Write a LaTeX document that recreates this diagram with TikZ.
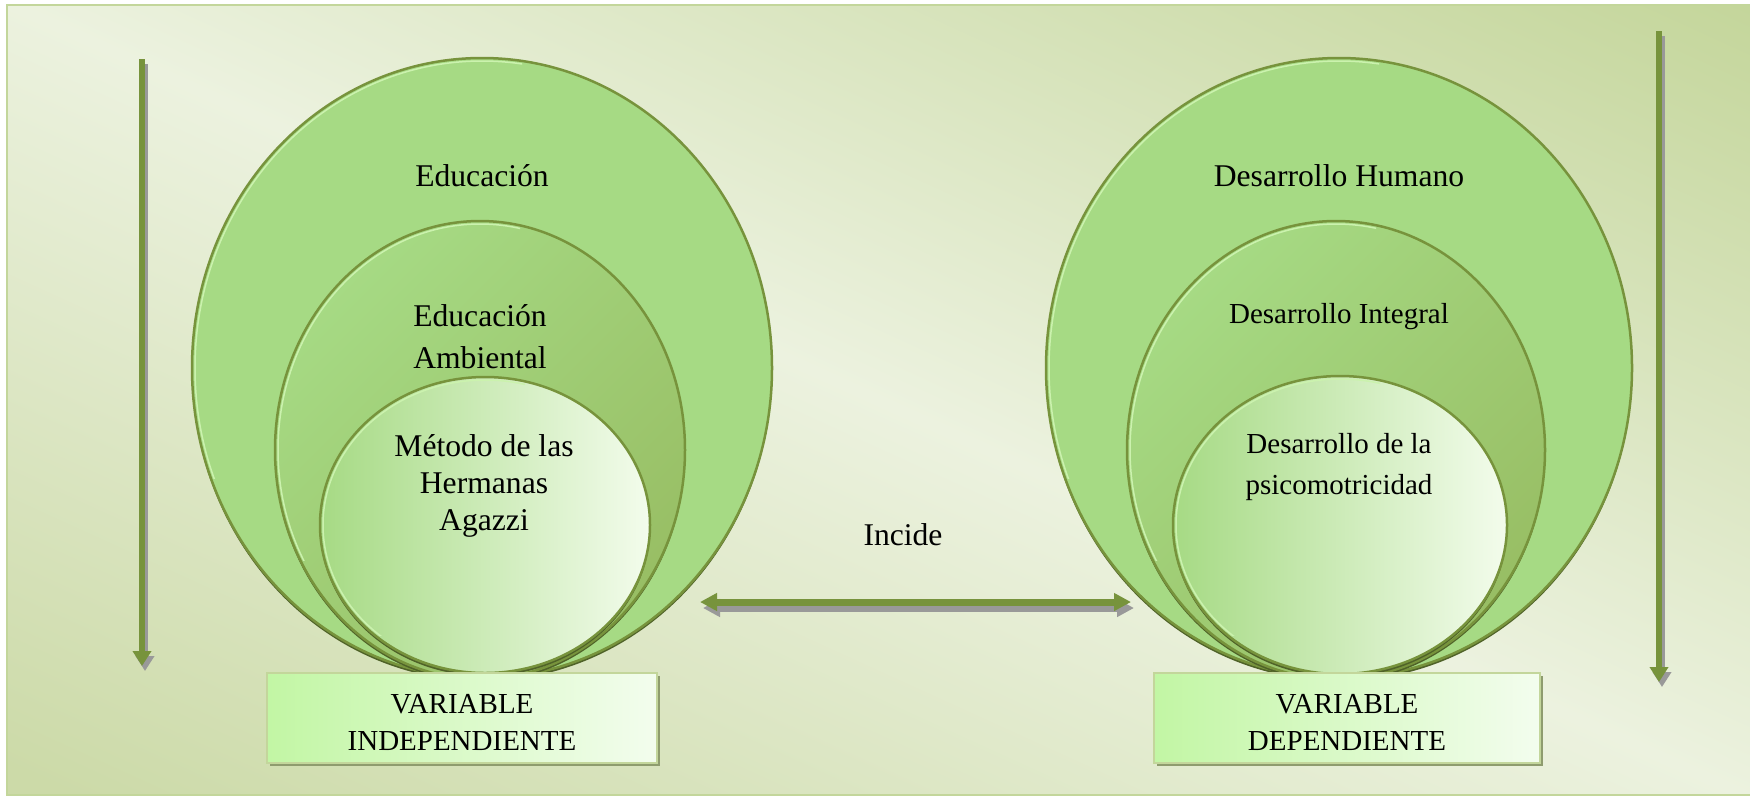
\documentclass[tikz,border=0pt]{standalone}
\usepackage{fontspec}
\setmainfont{Liberation Serif}
\usetikzlibrary{arrows.meta}

\definecolor{olivearrow}{HTML}{77933C}
\definecolor{olivedark}{HTML}{4F6228}
\definecolor{ovalfill}{HTML}{A6DA84}
\definecolor{ovaldark}{HTML}{98BE64}
\definecolor{ovalwhite}{HTML}{F3FCEC}
\definecolor{ovallight}{HTML}{CBF2AE}
\definecolor{bglight}{HTML}{ECF2DF}
\definecolor{bgdarka}{HTML}{CCDAA8}
\definecolor{bgdarkb}{HTML}{C3D599}
\definecolor{framegreen}{HTML}{C3D69B}
\definecolor{boxleft}{HTML}{C2F6A4}
\definecolor{boxright}{HTML}{F3FDEE}
\definecolor{boxshadow}{HTML}{8E9C6E}
\definecolor{arrowgray}{HTML}{999999}

\pgfdeclarehorizontalshading{bgdiag}{100bp}{color(0bp)=(bgdarka); color(18bp)=(bgdarka); color(50bp)=(bglight); color(84bp)=(bgdarkb); color(100bp)=(bgdarkb)}

\begin{document}
\begin{tikzpicture}[x=0.02cm, y=-0.02cm,
    ovaltext/.style={font=\fontsize{18}{24}\selectfont, align=center},
    smalltext/.style={font=\fontsize{16.5}{23}\selectfont, align=center},
    ovalline/.style={draw=olivearrow, line width=0.05cm},
    ovalshadow/.style={fill=olivedark},
    ovalshine/.style={draw=ovallight, line width=0.03cm},
    varbox/.style={draw=framegreen, line width=0.04cm, left color=boxleft, right color=boxright,
        minimum height=1.8cm},
    vartext/.style={align=center, font=\fontsize{16.5}{21.5}\selectfont},
    varshadow/.style={fill=boxshadow, minimum height=1.8cm},
    bigarrow/.style={draw=olivearrow, line width=0.12cm, -{Triangle[length=0.3cm,width=0.36cm]}},
    bigshadow/.style={draw=arrowgray, line width=0.12cm, -{Triangle[length=0.3cm,width=0.36cm,fill=arrowgray]}},
    incarrow/.style={draw=olivearrow, line width=0.14cm, {Triangle[length=0.34cm,width=0.34cm]}-{Triangle[length=0.34cm,width=0.34cm]}},
    incshadow/.style={draw=arrowgray, line width=0.14cm, {Triangle[length=0.34cm,width=0.34cm]}-{Triangle[length=0.34cm,width=0.34cm]}}]

    \useasboundingbox (0,0) rectangle (1750,796);
    % fondo
    \shade[shading=bgdiag, shading angle=65.5] (7,5) rectangle (1752,795);
    \draw[framegreen, line width=0.04cm] (7,5) rectangle (1752,795);

    % variable independiente
    \fill[ovalshadow] (482,371) ellipse [x radius=290, y radius=310];
    \draw[ovalline, fill=ovalfill] (482,368) ellipse [x radius=290, y radius=310];
    \fill[ovalshadow] (480,453) ellipse [x radius=205, y radius=229];
    \shade[left color=ovalfill, right color=ovaldark, shading angle=45] (480,450) ellipse [x radius=205, y radius=229];
    \draw[ovalline] (480,450) ellipse [x radius=205, y radius=229];
    \fill[ovalshadow] (485,528) ellipse [x radius=165, y radius=148];
    \shade[left color=ovalfill, right color=ovalwhite] (485,525) ellipse [x radius=165, y radius=148];
    \draw[ovalline] (485,525) ellipse [x radius=165, y radius=148];

    % variable dependiente
    \fill[ovalshadow] (1339,371) ellipse [x radius=293, y radius=310];
    \draw[ovalline, fill=ovalfill] (1339,368) ellipse [x radius=293, y radius=310];
    \fill[ovalshadow] (1336,453) ellipse [x radius=209, y radius=229];
    \shade[left color=ovalfill, right color=ovaldark, shading angle=45] (1336,450) ellipse [x radius=209, y radius=229];
    \draw[ovalline] (1336,450) ellipse [x radius=209, y radius=229];
    \fill[ovalshadow] (1340,528) ellipse [x radius=167, y radius=149];
    \shade[left color=ovalfill, right color=ovalwhite] (1340,525) ellipse [x radius=167, y radius=149];
    \draw[ovalline] (1340,525) ellipse [x radius=167, y radius=149];

    % brillo arriba a la izquierda
    \foreach \cx/\cy/\rx/\ry in {482/368/290/310, 480/450/205/229, 485/525/165/148,
                                  1339/368/293/310, 1336/450/209/229, 1340/525/167/149} {
        \begin{scope}
            \clip (\cx-\rx-10,\cy-\ry-10) rectangle (\cx+40,\cy+110);
            \draw[ovalshine] (\cx,\cy) ellipse [x radius=\rx-3, y radius=\ry-3];
        \end{scope}
    }

    \node[ovaltext] (educ) at (482,176) {Educación};
    \node[ovaltext] (educamb) at (480,337) {Educación\\Ambiental};
    \node[ovaltext, font=\fontsize{18}{21}\selectfont] (metodo) at (484,486) {Método de las\\Hermanas\\Agazzi};

    \node[ovaltext] (deshum) at (1339,176) {Desarrollo Humano};
    \node[smalltext] (desint) at (1339,317) {Desarrollo Integral};
    \node[smalltext] (despsico) at (1339,467) {Desarrollo de la\\psicomotricidad};

    % cuadros
    \node[varshadow, minimum width=7.8cm] at (465,721) {};
    \node[varbox, minimum width=7.8cm] (varind) at (462,718) {};
    \node[vartext] (varindtxt) at ([yshift=-0.09cm]varind.center) {VARIABLE\\INDEPENDIENTE};
    \node[varshadow, minimum width=7.72cm] at (1350,721) {};
    \node[varbox, minimum width=7.72cm] (vardep) at (1347,718) {};
    \node[vartext] (vardeptxt) at ([yshift=-0.09cm]vardep.center) {VARIABLE\\DEPENDIENTE};

    % flechas
    \coordinate (topL) at (142,59);
    \coordinate (botL) at (142,666);
    \coordinate (topR) at (1659,31);
    \coordinate (botR) at (1659,682);
    \coordinate (incL) at (700,602);
    \coordinate (incR) at (1131,602);

    \draw[bigshadow] ([xshift=0.06cm,yshift=-0.1cm]topL) -- ([xshift=0.06cm,yshift=-0.1cm]botL);
    \draw[bigarrow] (topL) -- (botL);
    \draw[bigshadow] ([xshift=0.06cm,yshift=-0.1cm]topR) -- ([xshift=0.06cm,yshift=-0.1cm]botR);
    \draw[bigarrow] (topR) -- (botR);
    \draw[incshadow] ([xshift=0.06cm,yshift=-0.12cm]incL) -- ([xshift=0.06cm,yshift=-0.12cm]incR);
    \draw[incarrow] (incL) -- (incR);

    \node[ovaltext] (incide) at (903,535) {Incide};
\end{tikzpicture}
\end{document}
